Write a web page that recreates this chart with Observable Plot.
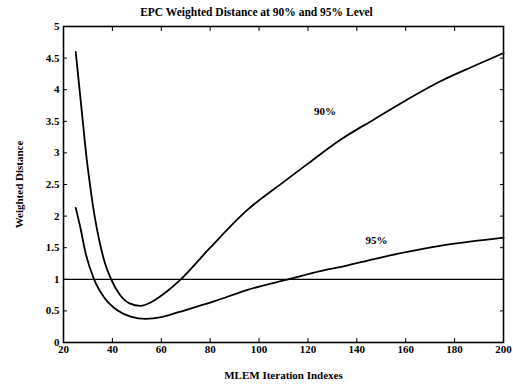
<!DOCTYPE html>
<html>
<head>
<meta charset="utf-8">
<script src="https://cdn.jsdelivr.net/npm/d3@7"></script>
<script src="https://cdn.jsdelivr.net/npm/@observablehq/plot@0.6"></script>
<style>
  html, body { margin: 0; padding: 0; background: #fff; }
  #title { width: 460px; padding-left: 53px; height: 20px; line-height: 20px; padding-top: 2px; box-sizing: border-box;
    text-align: center; font-family: "Liberation Serif", serif; font-weight: bold; font-size: 11.5px; color: #000; }
  #chart svg, #chart svg text { font-family: "Liberation Serif", serif !important; font-weight: bold; }
</style>
</head>
<body>
<div id="title">EPC Weighted Distance at 90% and 95% Level</div>
<div id="chart"></div>
<script>
const titleText = "EPC Weighted Distance at 90% and 95% Level";
const xLabel = "MLEM Iteration Indexes";
const yLabel = "Weighted Distance";

const iter90 = [25, 27.5, 29.5, 31, 32.5, 35, 37, 39.5, 43, 47, 51.5, 56, 62, 68, 80, 95, 109, 120, 133, 147, 160, 174, 187, 200];
const dist90 = [4.6, 3.65, 2.9, 2.45, 2.05, 1.55, 1.25, 1.0, 0.76, 0.62, 0.58, 0.64, 0.8, 1.0, 1.5, 2.09, 2.51, 2.83, 3.2, 3.53, 3.83, 4.13, 4.36, 4.58];

const iter95 = [25, 27, 29, 32.5, 36.5, 42, 47.5, 53.5, 60, 67, 81.5, 95, 113, 125, 135, 147, 160, 174, 187, 200];
const dist95 = [2.13, 1.8, 1.42, 1.0, 0.72, 0.51, 0.41, 0.375, 0.40, 0.48, 0.65, 0.83, 1.01, 1.13, 1.21, 1.32, 1.43, 1.53, 1.6, 1.66];

const threshold = [1];
const xTicks = [20, 40, 60, 80, 100, 120, 140, 160, 180, 200];
const yTicks = [0, 0.5, 1, 1.5, 2, 2.5, 3, 3.5, 4, 4.5, 5];

const seriesLabels = [
  {text: "90%", x: 127, y: 3.66},
  {text: "95%", x: 148, y: 1.62}
];

const data90 = iter90.map((x, i) => ({x, y: dist90[i]}));
const data95 = iter95.map((x, i) => ({x, y: dist95[i]}));

const chart = Plot.plot({
  width: 513,
  height: 367,
  marginTop: 6,
  marginBottom: 45,
  marginLeft: 63,
  marginRight: 10,
  style: {fontFamily: "'Liberation Serif', serif", fontWeight: "bold", fontSize: "11px", color: "#000", background: "#fff"},
  x: {domain: [20, 200]},
  y: {domain: [0, 5]},
  marks: [
    Plot.ruleY(threshold, {stroke: "#000", strokeWidth: 1.2}),
    Plot.line(data90, {x: "x", y: "y", stroke: "#000", strokeWidth: 1.8, curve: "monotone-x"}),
    Plot.line(data95, {x: "x", y: "y", stroke: "#000", strokeWidth: 1.8, curve: "monotone-x"}),
    Plot.text(seriesLabels, {x: "x", y: "y", text: "text", fontSize: 11, fontWeight: "bold", fill: "#000"}),
    Plot.frame({stroke: "#000", strokeWidth: 1.6}),
    Plot.axisX(xTicks, {anchor: "bottom", tickSize: -4, tickPadding: 7, tickFormat: d => String(d),
      label: xLabel, labelAnchor: "center", labelArrow: "none", labelOffset: 36}),
    Plot.axisX(xTicks, {anchor: "top", tickSize: -4, tickFormat: () => "", label: null}),
    Plot.axisY(yTicks, {anchor: "left", tickSize: -4, tickPadding: 8, tickFormat: d => String(d),
      label: yLabel, labelAnchor: "center", labelArrow: "none", labelOffset: 48}),
    Plot.axisY(yTicks, {anchor: "right", tickSize: -4, tickFormat: () => "", label: null})
  ]
});
document.getElementById("chart").appendChild(chart);
</script>
</body>
</html>
